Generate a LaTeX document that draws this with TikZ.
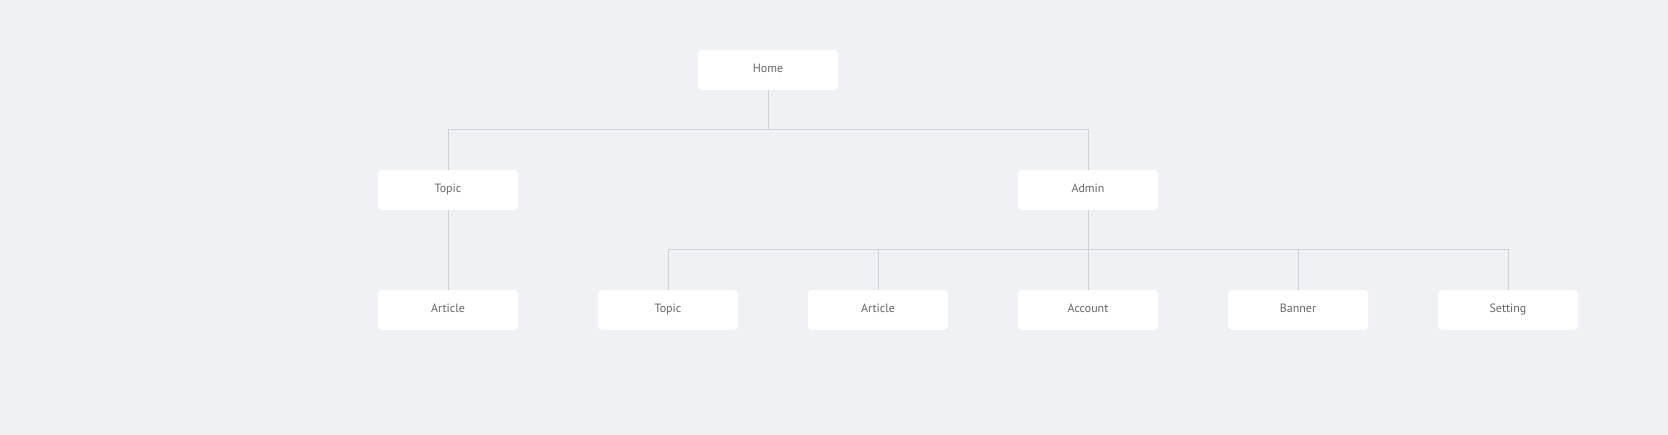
\documentclass[tikz,border=0pt]{standalone}
\usepackage{fontspec}
\setmainfont{PT Sans}
\definecolor{bgpage}{HTML}{F0F1F5}
\definecolor{linkgray}{HTML}{D2D2D8}
\definecolor{textgray}{HTML}{666666}
\tikzset{
  pagebox/.style={fill=white,rounded corners=4pt,minimum width=140pt,minimum height=40pt,inner sep=0pt,text height=8pt,text depth=3pt,text=textgray,font=\fontsize{12}{14}\selectfont},
  link/.style={draw=linkgray,line width=0.8pt}
}
\begin{document}
\begin{tikzpicture}[x=1pt,y=-1pt]
\fill[bgpage] (0,0) rectangle (1668,435);
\useasboundingbox (0,0) rectangle (1668,435);
% level 0
\node[pagebox] (home) at (768,70) {Home};
% level 1
\node[pagebox] (topic) at (448,190) {Topic};
\node[pagebox] (admin) at (1088,190) {Admin};
% level 2
\node[pagebox] (article) at (448,310) {Article};
\node[pagebox] (admtopic) at (668,310) {Topic};
\node[pagebox] (admarticle) at (878,310) {Article};
\node[pagebox] (account) at (1088,310) {Account};
\node[pagebox] (banner) at (1298,310) {Banner};
\node[pagebox] (setting) at (1508,310) {Setting};
% links
\draw[link] (home.south) -- ++(0,40);
\draw[link] (topic.north) -- ++(0,-40) -| (admin.north);
\draw[link] (topic.south) -- (article.north);
\draw[link] (admin.south) -- (account.north);
\draw[link] (admtopic.north) -- ++(0,-40) -| (setting.north);
\foreach \n in {admarticle,banner}
  \draw[link] (\n.north) -- ++(0,-40);
\end{tikzpicture}
\end{document}
